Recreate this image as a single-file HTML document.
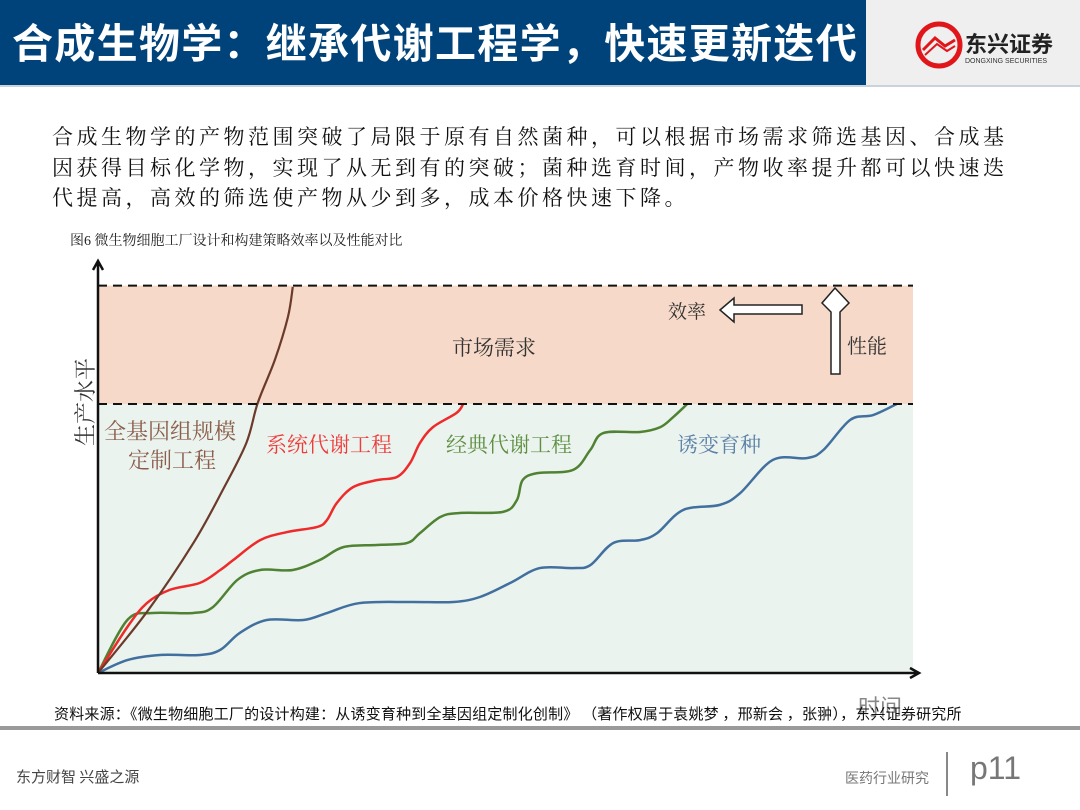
<!DOCTYPE html>
<html><head><meta charset="utf-8">
<style>
body{margin:0;width:1080px;height:810px;overflow:hidden;background:#fff;position:relative;font-family:"Liberation Sans","Noto Sans CJK SC",sans-serif;}
.abs{position:absolute;white-space:nowrap;}
</style></head><body>
<div class="abs" style="left:0;top:0;width:866px;height:85px;background:#00427a;"></div>
<div class="abs" style="left:12px;top:10px;font-size:41px;font-weight:bold;color:#fff;font-family:'Noto Sans CJK SC',sans-serif;letter-spacing:1.3px;">合成生物学：继承代谢工程学，快速更新迭代</div>
<div class="abs" style="left:866px;top:0;width:214px;height:85px;background:#efefef;"></div>
<div class="abs" style="left:0;top:85px;width:1080px;height:2px;background:#c9d3de;"></div>
<svg class="abs" style="left:915px;top:20px" width="150" height="50">
<circle cx="24" cy="25" r="21" fill="none" stroke="#e0161b" stroke-width="5"/>
<path d="M8 30 L20 18 L30 26 L40 20" fill="none" stroke="#e0161b" stroke-width="3"/>
<path d="M10 35 L22 24 L32 31 L40 26" fill="none" stroke="#e0161b" stroke-width="2"/>
<text x="50" y="32" font-size="22" font-weight="bold" fill="#222" font-family="Noto Sans CJK SC,sans-serif">东兴证券</text>
<text x="50" y="43" font-size="7" fill="#333" font-family="Liberation Sans,sans-serif">DONGXING SECURITIES</text>
</svg>
<div class="abs" style="left:52px;top:122px;width:1010px;white-space:normal;font-size:21px;line-height:30.5px;letter-spacing:3.5px;color:#111;font-family:'Liberation Serif','Noto Serif CJK SC',serif;">合成生物学的产物范围突破了局限于原有自然菌种，可以根据市场需求筛选基因、合成基<br>因获得目标化学物，实现了从无到有的突破；菌种选育时间，产物收率提升都可以快速迭<br>代提高，高效的筛选使产物从少到多，成本价格快速下降。</div>
<div class="abs" style="left:70px;top:230px;font-size:14px;color:#222;font-family:'Liberation Serif','Noto Serif CJK SC',serif;">图6 微生物细胞工厂设计和构建策略效率以及性能对比</div>

<svg class="abs" id="chart" style="left:0;top:0" width="1080" height="810"></svg>

<div class="abs" style="left:858px;top:690px;font-size:22px;color:#888;font-family:'Noto Sans CJK SC',sans-serif;">时间</div>
<div class="abs" style="left:54px;top:703px;font-size:15px;color:#111;font-family:'Noto Sans CJK SC',sans-serif;letter-spacing:0.2px;">资料来源：《微生物细胞工厂的设计构建：从诱变育种到全基因组定制化创制》 （著作权属于袁姚梦 ，邢新会 ，张翀），东兴证券研究所</div>
<div class="abs" style="left:0;top:726px;width:1080px;height:4px;background:#9a9a9a;"></div>
<div class="abs" style="left:16px;top:766px;font-size:15px;color:#444;font-family:'Noto Sans CJK SC',sans-serif;">东方财智 兴盛之源</div>
<div class="abs" style="left:845px;top:768px;font-size:14px;color:#777;font-family:'Noto Sans CJK SC',sans-serif;">医药行业研究</div>
<div class="abs" style="left:946px;top:752px;width:2px;height:44px;background:#888;"></div>
<div class="abs" style="left:970px;top:750px;font-size:32px;color:#777;">p11</div>

<script>
const brownX=[0,6,11.7,15.3,18.2,19.6,21.7,23.3,23.9];
const brownY=[0,22.7,48.3,68,85.5,100.4,116.4,132.3,143.5];
const redX=[0,3.6,6.0,8.8,12.5,15.0,16.6,19.9,23.2,26.9,28.1,29.3,31.3,34.2,36.7,38.3,39.5,41.1,44.0,44.8];
const redY=[0,17.1,26.0,30.9,33.5,38.3,42.0,49.4,52.4,54.3,56.9,63.2,69.1,71.7,72.9,78.1,85.5,91.4,96.7,100];
const greenX=[0,3.6,6.7,11.7,14.1,17.1,19.9,23.9,27.2,30.1,34.2,37.9,39.5,42.0,44.4,49.7,51.4,52.1,53.9,58.3,60.4,62.0,66.5,69.0,70.6,72.3];
const greenY=[0,19.7,22.3,22.3,24.5,34.6,38.3,38.3,42.0,46.8,47.6,48.3,52.0,58.0,59.5,59.9,64.3,71.7,74.3,75.5,82.9,89.2,89.6,91.4,95.2,100];
const blueX=[0,3.6,7.6,12.5,15.0,17.4,20.7,25.2,28.1,32.1,38.3,43.6,46.9,50.6,54.2,58.3,60.4,63.2,66.5,68.6,71.8,76.3,78.8,82.8,87.0,89.0,92.3,95.1,98.0];
const blueY=[0,4.8,6.7,6.7,8.6,14.9,19.7,19.7,22.3,26.0,26.4,26.4,28.3,33.5,39.0,39.0,40.1,48.3,49.4,52.0,60.6,62.5,66.9,79.2,79.9,82.9,94.1,95.9,100];
const demandLevel=100, perfLevel=144;

const X0=98,Y0=673,XS=8.15,YS=2.69;
const sx=v=>X0+v*XS, sy=v=>Y0-v*YS;
const svg=document.getElementById('chart');
const NS='http://www.w3.org/2000/svg';
function mk(t,a){const e=document.createElementNS(NS,t);for(const k in a)e.setAttribute(k,a[k]);svg.appendChild(e);return e;}

const xEnd=sx(100);
let r=mk('rect',{x:X0,y:sy(perfLevel),width:xEnd-X0,height:sy(demandLevel)-sy(perfLevel),fill:'#f6d9c8'});


r=mk('rect',{x:X0,y:sy(demandLevel),width:xEnd-X0,height:Y0-sy(demandLevel),fill:'#ebf3ee'});



function path(xs,ys){
  const p=xs.map((x,i)=>[sx(x),sy(ys[i])]);
  let d='M'+p[0][0]+' '+p[0][1];
  for(let i=0;i<p.length-1;i++){
    const a=p[i-1]||p[i],b=p[i],c=p[i+1],e=p[i+2]||c;
    d+=' C'+(b[0]+(c[0]-a[0])/6)+' '+(b[1]+(c[1]-a[1])/6)+' '+(c[0]-(e[0]-b[0])/6)+' '+(c[1]-(e[1]-b[1])/6)+' '+c[0]+' '+c[1];
  }
  return d;
}
let l=mk('path',{d:path(blueX,blueY),fill:'none',stroke:'#41709f',"stroke-width":2.5});


l=mk('path',{d:path(greenX,greenY),fill:'none',stroke:'#4f8232',"stroke-width":2.5});


l=mk('path',{d:path(redX,redY),fill:'none',stroke:'#ee2a2a',"stroke-width":2.5});


l=mk('path',{d:path(brownX,brownY),fill:'none',stroke:'#6b3a2a',"stroke-width":2.2});



l=mk('line',{x1:X0,y1:sy(perfLevel),x2:xEnd,y2:sy(perfLevel),stroke:'#111',"stroke-width":2,"stroke-dasharray":"9,6"});


l=mk('line',{x1:X0,y1:sy(demandLevel),x2:xEnd,y2:sy(demandLevel),stroke:'#111',"stroke-width":2,"stroke-dasharray":"9,6"});



l=mk('path',{d:`M${X0} ${Y0} L${X0} 262 M${X0-5} 270 L${X0} 261 L${X0+5} 270`,fill:'none',stroke:'#111',"stroke-width":2.5});


l=mk('path',{d:`M${X0} ${Y0} L918 ${Y0} M910 ${Y0-5} L919 ${Y0} L910 ${Y0+5}`,fill:'none',stroke:'#111',"stroke-width":2.5});



l=mk('path',{d:'M720 310 L734 298 L734 305 L802 305 L802 314 L734 314 L734 322 Z',fill:'#fff',stroke:'#222',"stroke-width":1.5});


l=mk('path',{d:'M835 288 L849 303 L840 312 L840 374 L831 374 L831 312 L822 303 Z',fill:'#fff',stroke:'#222',"stroke-width":1.5});



function txt(s,x,y,size,col,name,rot){
  const t=mk('text',{x:x,y:y,"font-size":size,fill:col,"font-family":'Liberation Serif, Noto Serif CJK SC, serif'});
  if(rot)t.setAttribute('transform',`rotate(-90 ${x} ${y})`);
  t.textContent=s;
  
  
}
txt('市场需求',452,355,21,'#333','market-demand-label');
txt('效率',668,318,19,'#333','efficiency-label');
txt('性能',847,353,20,'#333','performance-label');
txt('全基因组规模',104,439,22,'#8b5e4c','genome-scale-label');
txt('定制工程',128,468,22,'#8b5e4c','genome-scale-label-2');
txt('系统代谢工程',266,452,21,'#ee3b3b','systems-metabolic-label');
txt('经典代谢工程',446,452,21,'#5e8f42','classic-metabolic-label');
txt('诱变育种',677,452,21,'#5b80a8','mutation-breeding-label');
txt('生产水平',93,446,22,'#333','y-axis-title',true);
</script>
</body></html>
